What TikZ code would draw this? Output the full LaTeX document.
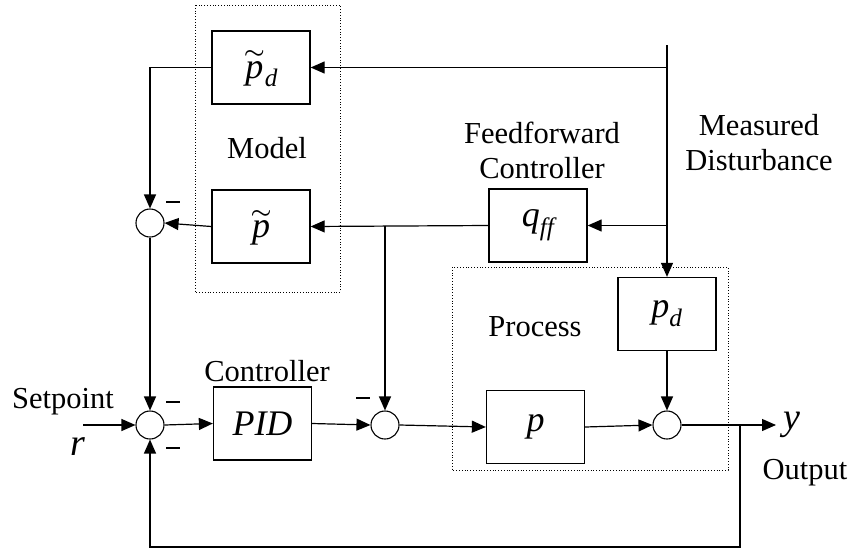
\documentclass[tikz,border=0pt]{standalone}
\usepackage{amsmath}
\usepackage{graphicx}
\usepackage{fontspec}
\setmainfont{Liberation Serif}
\usetikzlibrary{arrows.meta}
\newcommand\wtil[1]{\overset{\raisebox{-4pt}{\resizebox{21pt}{8pt}{$\boldsymbol{\sim}$}}}{#1}}
\begin{document}
\begin{tikzpicture}[x=1pt,y=-1pt,
 blk/.style={draw,line width=1.3pt,minimum width=98pt,minimum height=73pt,inner sep=0pt,font=\fontsize{36}{40}\selectfont},
 sumc/.style={draw,circle,line width=1.1pt,minimum size=28pt,inner sep=0pt},
 lbl/.style={font=\fontsize{30.5}{35}\selectfont,align=center,inner sep=0pt},
 big/.style={font=\fontsize{38}{40}\selectfont,inner sep=0pt},
 conn/.style={line width=1.2pt},
 arr/.style={conn,-{Triangle[length=14pt,width=12pt]}},
 grp/.style={draw,dotted,line width=0.8pt},
 minus/.style={inner sep=0pt}]
\useasboundingbox (0,0) rectangle (852,550);
% group boxes
\draw[grp] (195,5) rectangle (340,292);
\draw[grp] (452,267) rectangle (728,470);
% blocks
\node[blk] (pdt) at (261,67.5) {$\wtil{\textit{p}}_{\textit{d}}$};
\node[blk] (pt) at (261,226.5) {$\wtil{\textit{p}}$};
\node[blk] (qff) at (538,225.5) {$\textit{q}_{\textit{ff}}$};
\node[blk] (pd) at (667,314) {$\textit{p}_{\textit{d}}$};
\node[blk] (p) at (535.5,427) {\textit{p}};
\node[blk] (pid) at (262.5,423.5) {\textit{PID}};
% summing junctions
\node[sumc] (s1) at (150,223) {};
\node[sumc] (s0) at (150,425) {};
\node[sumc] (s2) at (385,425) {};
\node[sumc] (s3) at (667,425) {};
% free ends
\coordinate (mdtop) at (667,45);
\coordinate (sp) at (83,425);
\coordinate (yend) at (776,425);
\coordinate (fb) at (740,425);
\coordinate (fbb) at (740,547);
% connectors
\draw[arr] (mdtop) -- (pd.north);
\draw[arr] (mdtop |- pdt) -- (pdt.east);
\draw[arr] (mdtop |- qff) -- (qff.east);
\draw[arr] (qff.west) -- (pt.east);
\draw[arr] (s2 |- qff) -- (s2.north);
\draw[arr] (pt.west) -- (s1.east);
\draw[arr] (pdt.west) -| (s1.north);
\draw[arr] (s1.south) -- (s0.north);
\draw[arr] (sp) -- (s0.west);
\draw[arr] (s0.east) -- (pid.west);
\draw[arr] (pid.east) -- (s2.west);
\draw[arr] (s2.east) -- (p.west);
\draw[arr] (p.east) -- (s3.west);
\draw[arr] (pd.south) -- (s3.north);
\draw[arr] (s3.east) -- (yend);
\draw[arr] (fb) -- (fbb) -| (s0.south);
% labels
\node[lbl] (lmodel) at (267,148) {Model};
\node[lbl] (lff) at (542,150) {Feedforward\\Controller};
\node[lbl] (lmd) at (759,143) {Measured\\Disturbance};
\node[lbl] (lproc) at (535,327) {Process};
\node[lbl] (lctrl) at (267,371) {Controller};
\node[lbl] (lsp) at (63,402) {Setpoint};
\node[big] (lr) at (78,447) {\textit{r}};
\node[big] (ly) at (792,425) {\textit{y}};
\node[lbl] (lout) at (805,473) {Output};
% minus signs
\node[minus] (m1) at (173,202) {\rule{14pt}{1.8pt}};
\node[minus] (m2) at (173,402) {\rule{14pt}{1.8pt}};
\node[minus] (m3) at (173,448) {\rule{14pt}{1.8pt}};
\node[minus] (m4) at (363,398) {\rule{14pt}{1.8pt}};
\end{tikzpicture}
\end{document}
